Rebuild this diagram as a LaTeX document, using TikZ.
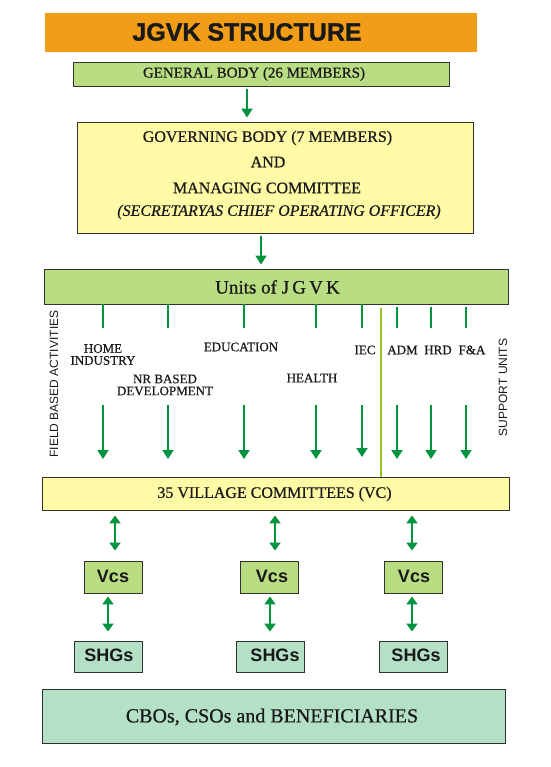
\documentclass[tikz,border=0pt]{standalone}
\usepackage{fontspec}
\setmainfont{Liberation Serif}[FakeBold=0.6]
\setsansfont{Liberation Sans}
\newfontfamily\heavysans{Liberation Sans Bold}[FakeBold=1.2]
\usetikzlibrary{arrows.meta}
\definecolor{orangeF}{RGB}{241,157,24}
\definecolor{lgreen}{RGB}{185,221,130}
\definecolor{lyellow}{RGB}{255,250,165}
\definecolor{lteal}{RGB}{180,224,200}
\definecolor{agreen}{RGB}{0,148,64}
\definecolor{sepgreen}{RGB}{150,195,40}
\definecolor{bordc}{RGB}{50,50,50}
\tikzset{
  box/.style={draw=bordc, line width=0.9pt, inner sep=0pt},
  txt/.style={inner sep=0pt, text=black!90},
  garrow/.style={draw=agreen, line width=2pt, -{Triangle[width=11pt,length=9pt]}},
  gtick/.style={draw=agreen, line width=2pt},
  darr/.style={draw=agreen, line width=2.4pt, {Triangle[width=11pt,length=8pt]}-{Triangle[width=11pt,length=8pt]}},
  unitlbl/.style={txt, font=\fontsize{13}{13}\selectfont, align=center},
  sidelbl/.style={txt, font=\sffamily\fontsize{12}{12}\selectfont, rotate=90},
  smallbox/.style={box, font=\sffamily\bfseries\fontsize{18}{18}\selectfont}
}
\begin{document}
\begin{tikzpicture}[x=1pt,y=-1pt]
\useasboundingbox (0,0) rectangle (550,767);

% title
\node[fill=orangeF, inner sep=0pt, minimum width=432pt, minimum height=39pt] (title) at (261,32.5) {};
\node[txt, font=\heavysans\fontsize{25}{25}\selectfont] (titletxt) at (247,32) {JGVK STRUCTURE};

% general body
\node[box, fill=lgreen, minimum width=376pt, minimum height=24pt] (gb) at (261,74) {};
\node[txt, font=\fontsize{15}{15}\selectfont] (gbtxt) at (254,74) {GENERAL BODY (26 MEMBERS)};

% governing body
\node[box, fill=lyellow, minimum width=396pt, minimum height=111pt] (gov) at (275,177.5) {};
\node[txt, font=\fontsize{16}{16}\selectfont] (gov1) at (267.5,138) {GOVERNING BODY (7 MEMBERS)};
\node[txt, font=\fontsize{16}{16}\selectfont] (gov2) at (268,162) {AND};
\node[txt, font=\fontsize{16}{16}\selectfont] (gov3) at (267,188) {MANAGING COMMITTEE};
\node[txt, font=\itshape\fontsize{16}{16}\selectfont] (gov4) at (279,212) {(SECRETARYAS CHIEF OPERATING OFFICER)};

% units
\node[box, fill=lgreen, minimum width=464pt, minimum height=35pt] (units) at (276,286.5) {};
\node[txt, font=\fontsize{19}{19}\selectfont] (unitstxt) at (277.5,287) {Units of J\,G\,V\,K};

% arrows top
\coordinate (c1) at (247,0);
\coordinate (c2) at (261,0);
\draw[garrow, shorten <=3pt, shorten >=4pt] (gb.south -| c1) -- (gov.north -| c1);
\draw[garrow, shorten <=3pt, shorten >=4pt] (gov.south -| c2) -- (units.north -| c2);

% side labels
\node[sidelbl] (field) at (54,384) {FIELD BASED ACTIVITIES};
\node[sidelbl] (support) at (503,387.5) {SUPPORT UNITS};

% unit labels
\node[unitlbl] (lhome) at (103,354.5) {HOME\\[-1pt]INDUSTRY};
\node[unitlbl] (lnr) at (165,385) {NR BASED\\[-1pt]DEVELOPMENT};
\node[unitlbl] (ledu) at (241,347) {EDUCATION};
\node[unitlbl] (lhealth) at (312,378) {HEALTH};
\node[unitlbl] (liec) at (365,350) {IEC};
\node[unitlbl] (ladm) at (402.5,350) {ADM};
\node[unitlbl] (lhrd) at (438,350) {HRD};
\node[unitlbl] (lfa) at (472,350) {F\&A};

% village committees
\node[box, fill=lyellow, minimum width=467pt, minimum height=33pt] (vc) at (275.5,493.5) {};
\node[txt, font=\fontsize{16}{16}\selectfont] (vctxt) at (274.5,494) {35 VILLAGE COMMITTEES (VC)};

% unit ticks and arrows
\foreach \x/\n/\s/\e in {103/a/304/459, 168/b/304/459, 244/c/304/459, 316/d/304/459, 362/e/304/457, 397/f/307/459, 431/g/307/459, 466/h/307/459}{
  \coordinate (t\n) at (\x,\s);
  \coordinate (ts\n) at (\x,328);
  \coordinate (as\n) at (\x,405);
  \coordinate (ae\n) at (\x,\e);
  \draw[gtick] (t\n) -- (ts\n);
  \draw[garrow] (as\n) -- (ae\n);
}
\coordinate (sepT) at (381,308);
\draw[draw=sepgreen, line width=2pt] (sepT) -- (vc.north -| sepT);

% Vcs boxes
\node[smallbox, fill=lgreen, minimum width=58pt, minimum height=32pt] (vcs1) at (113,577) {};
\node[smallbox, fill=lgreen, minimum width=58pt, minimum height=32pt] (vcs2) at (269,577) {};
\node[smallbox, fill=lgreen, minimum width=58pt, minimum height=32pt] (vcs3) at (413,577) {};
\node[txt, font=\sffamily\bfseries\fontsize{18}{18}\selectfont] (vcs1t) at (113,576) {Vcs};
\node[txt, font=\sffamily\bfseries\fontsize{18}{18}\selectfont] (vcs2t) at (272,576) {Vcs};
\node[txt, font=\sffamily\bfseries\fontsize{18}{18}\selectfont] (vcs3t) at (414,576) {Vcs};

% SHGs boxes
\node[smallbox, fill=lteal, minimum width=68pt, minimum height=31pt] (shg1) at (108,656.5) {};
\node[smallbox, fill=lteal, minimum width=68pt, minimum height=31pt] (shg2) at (270,656.5) {};
\node[smallbox, fill=lteal, minimum width=68pt, minimum height=31pt] (shg3) at (413,656.5) {};
\node[txt, font=\sffamily\bfseries\fontsize{18}{18}\selectfont] (shg1t) at (109,655) {SHGs};
\node[txt, font=\sffamily\bfseries\fontsize{18}{18}\selectfont] (shg2t) at (275,655) {SHGs};
\node[txt, font=\sffamily\bfseries\fontsize{18}{18}\selectfont] (shg3t) at (416,655) {SHGs};

% double arrows
\coordinate (d1) at (115,0);
\coordinate (d2) at (275,0);
\coordinate (d3) at (412,0);
\draw[darr, shorten <=5pt, shorten >=10pt] (vc.south -| d1) -- (vcs1.north -| d1);
\draw[darr, shorten <=5pt, shorten >=10pt] (vc.south -| d2) -- (vcs2.north -| d2);
\draw[darr, shorten <=5pt, shorten >=10pt] (vc.south -| d3) -- (vcs3.north -| d3);
\coordinate (e1) at (108,0);
\coordinate (e2) at (270,0);
\coordinate (e3) at (412,0);
\draw[darr, shorten <=3pt, shorten >=9pt] (vcs1.south -| e1) -- (shg1.north -| e1);
\draw[darr, shorten <=3pt, shorten >=9pt] (vcs2.south -| e2) -- (shg2.north -| e2);
\draw[darr, shorten <=3pt, shorten >=9pt] (vcs3.south -| e3) -- (shg3.north -| e3);

% CBOs
\node[box, fill=lteal, minimum width=463pt, minimum height=54pt] (cbo) at (273.5,716) {};
\node[txt, font=\fontsize{20}{20}\selectfont] (cbotxt) at (272,717) {CBOs, CSOs and BENEFICIARIES};
\end{tikzpicture}
\end{document}
